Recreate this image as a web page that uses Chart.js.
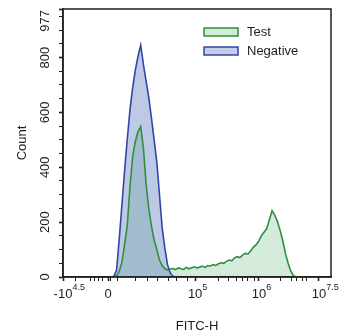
<!DOCTYPE html>
<html lang="en">
  <head>
    <meta charset="UTF-8" />
    <script src="https://cdn.jsdelivr.net/npm/chart.js@4.4.0/dist/chart.umd.min.js"></script>
    <title>FITC-H histogram</title>
    <style>
      html, body { margin: 0; padding: 0; background: #fff; }
      #wrap { width: 348px; height: 335px; }
    </style>
  </head>
  <body>
    <div id="wrap">
      <canvas id="myChart" width="348" height="335"></canvas>
    </div>
    <script>
      // x is a display channel (0..1000) of the logicle FITC-H axis
      const channels = [
        180, 190, 200, 210, 220, 230, 240, 250, 260, 270, 280, 290, 300, 310,
        320, 330, 340, 350, 360, 370, 380, 390, 400, 410, 420, 430, 440, 450,
        460, 470, 480, 490, 500, 510, 520, 530, 540, 550, 560, 570, 580, 590,
        600, 610, 620, 630, 640, 650, 660, 670, 680, 690, 700, 710, 720, 730,
        740, 750, 760, 770, 780, 790, 800, 810, 820, 830, 840, 850, 860, 870, 880,
      ];
      const testCounts = [
        0, 0, 5, 20, 55, 120, 190, 330, 440, 495, 530, 548, 470, 340,
        250, 185, 135, 100, 62, 42, 30, 26, 29, 31, 27, 33, 30, 28,
        35, 30, 34, 37, 33, 36, 40, 35, 42, 40, 45, 42, 48, 52,
        50, 57, 62, 59, 70, 74, 71, 80, 86, 84, 95, 108, 117, 130,
        150, 163, 176, 208, 242, 226, 203, 170, 133, 86, 50, 21, 5, 0, 0,
      ];
      const negativeCounts = [
        0, 3, 25, 140, 265, 390, 505, 610, 690, 755, 805, 845, 775, 715,
        655, 580, 500, 420, 300, 180, 105, 45, 15, 3, 0,
      ];

      const xTickValues = [
        0, 45, 104, 119, 134, 149, 168, 179, 205, 272, 317, 354, 392, 422, 466,
        493, 582, 619, 649, 668, 687, 713, 731, 813, 851, 873, 892, 910, 955,
      ];
      const xLabelValues = [0, 168, 493, 731, 955];
      const xLabelBase = ["-10", "0", "10", "10", "10"];
      const xLabelExp = ["4.5", "", "5", "6", "7.5"];

      const yTickValues = [
        0, 50, 100, 150, 200, 250, 300, 350, 400, 450, 500, 550, 600, 650,
        700, 750, 800, 850, 900, 950, 977,
      ];
      const yLabelValues = [0, 200, 400, 600, 800, 977];

      const seriesNames = ["Test", "Negative"];
      const lineColors = ["#2f8f3f", "#3346a8"];
      const fillColors = ["rgba(60,160,90,0.22)", "rgba(70,100,180,0.35)"];
      const swatchFills = ["#d2eAd6", "#c5cde8"];

      const FONT = '"Liberation Sans", Arial, sans-serif';
      const INK = "#1e1e1e";

      // frame, tick labels, titles and legend
      const decorPlugin = {
        id: "decor",
        afterDraw(chart) {
          const ctx = chart.ctx;
          const xs = chart.scales.x;
          const ys = chart.scales.y;
          const a = chart.chartArea;
          ctx.save();
          ctx.strokeStyle = INK;
          ctx.lineWidth = 1.5;
          ctx.strokeRect(a.left, a.top, a.right - a.left, a.bottom - a.top);

          ctx.fillStyle = INK;
          // x labels with superscript exponents
          xLabelValues.forEach((v, i) => {
            const px = xs.getPixelForValue(v);
            ctx.font = "13px " + FONT;
            ctx.textAlign = "center";
            ctx.textBaseline = "alphabetic";
            ctx.fillText(xLabelBase[i], px, 298);
            if (xLabelExp[i]) {
              const w = ctx.measureText(xLabelBase[i]).width;
              ctx.font = "9px " + FONT;
              ctx.textAlign = "left";
              ctx.fillText(xLabelExp[i], px + w / 2, 290);
            }
          });

          // y labels, rotated
          ctx.font = "13px " + FONT;
          ctx.textBaseline = "middle";
          yLabelValues.forEach((v, i) => {
            const py = ys.getPixelForValue(v);
            ctx.save();
            ctx.translate(45, py);
            ctx.rotate(-Math.PI / 2);
            if (i === yLabelValues.length - 1) {
              ctx.textAlign = "right";
              ctx.fillText(String(v), -1, 0);
            } else {
              ctx.textAlign = "center";
              ctx.fillText(String(v), 0, 0);
            }
            ctx.restore();
          });

          // axis titles
          ctx.save();
          ctx.translate(22, (a.top + a.bottom) / 2);
          ctx.rotate(-Math.PI / 2);
          ctx.textAlign = "center";
          ctx.fillText("Count", 0, 0);
          ctx.restore();
          ctx.textAlign = "center";
          ctx.fillText("FITC-H", (a.left + a.right) / 2, 326);

          // legend
          seriesNames.forEach((name, i) => {
            const y = 32 + i * 19;
            ctx.fillStyle = swatchFills[i];
            ctx.fillRect(204, y - 4, 34, 8);
            ctx.strokeStyle = lineColors[i];
            ctx.lineWidth = 1.5;
            ctx.strokeRect(204, y - 4, 34, 8);
            ctx.fillStyle = INK;
            ctx.textAlign = "left";
            ctx.textBaseline = "middle";
            ctx.font = "13px " + FONT;
            ctx.fillText(name, 247, y);
          });
          ctx.restore();
        },
      };

      const datasets = [
        {
          label: seriesNames[0],
          data: channels.map((c, i) => ({ x: c, y: testCounts[i] })),
          borderColor: lineColors[0],
          backgroundColor: fillColors[0],
          order: 1,
        },
        {
          label: seriesNames[1],
          data: negativeCounts.map((n, i) => ({ x: channels[i], y: n })),
          borderColor: lineColors[1],
          backgroundColor: fillColors[1],
          order: 0,
        },
      ].map((d) => ({
        ...d,
        fill: "origin",
        borderWidth: 1.6,
        pointRadius: 0,
        tension: 0,
      }));

      const isMajorX = (v) => xLabelValues.includes(v);
      const isMajorY = (v) => yLabelValues.includes(v);

      new Chart(document.getElementById("myChart"), {
        type: "line",
        data: { datasets: datasets },
        plugins: [decorPlugin],
        options: {
          responsive: false,
          animation: false,
          layout: { padding: { top: 9, right: 17, left: 0, bottom: 0 } },
          plugins: {
            legend: { display: false },
            tooltip: { enabled: false },
            filler: { drawTime: "beforeDatasetsDraw" },
          },
          scales: {
            x: {
              type: "linear",
              min: 0,
              max: 1000,
              afterBuildTicks: (s) => {
                s.ticks = xTickValues.map((v) => ({ value: v }));
              },
              afterFit: (s) => {
                s.height = 58;
              },
              ticks: { display: false },
              grid: {
                drawOnChartArea: false,
                drawTicks: true,
                tickLength: 4,
                color: INK,
                tickWidth: (c) => (c.tick && isMajorX(c.tick.value) ? 1.6 : 1),
              },
              border: { display: true, color: INK, width: 1.5 },
            },
            y: {
              type: "linear",
              min: 0,
              max: 977,
              afterBuildTicks: (s) => {
                s.ticks = yTickValues.map((v) => ({ value: v }));
              },
              afterFit: (s) => {
                s.width = 63;
              },
              ticks: { display: false },
              grid: {
                drawOnChartArea: false,
                drawTicks: true,
                tickLength: 4,
                color: INK,
                tickWidth: (c) => (c.tick && isMajorY(c.tick.value) ? 1.6 : 1),
              },
              border: { display: true, color: INK, width: 1.5 },
            },
          },
        },
      });
    </script>
  </body>
</html>
